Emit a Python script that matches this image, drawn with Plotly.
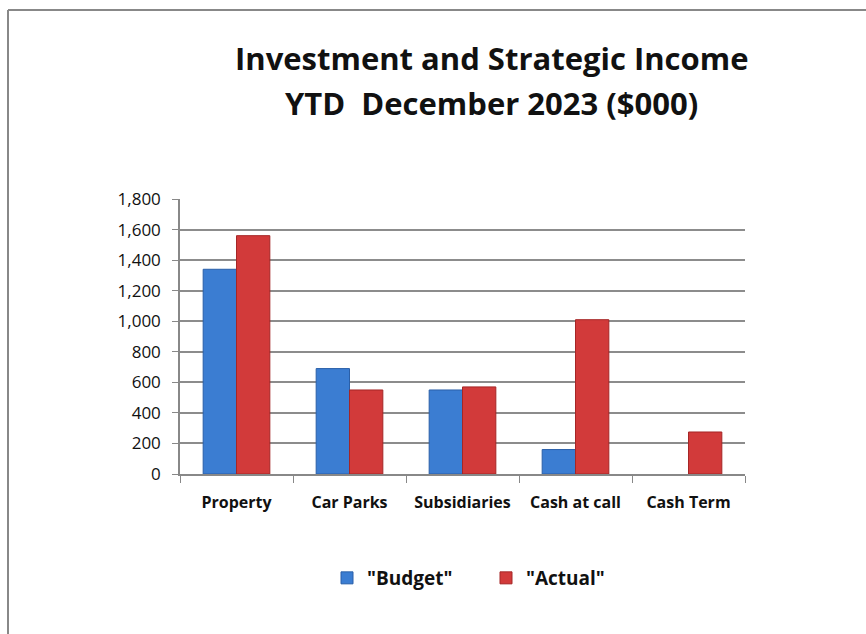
import plotly.graph_objects as go

categories = ["Property", "Car Parks", "Subsidiaries", "Cash at call", "Cash Term"]
budget = [1340, 690, 550, 160, None]
actual = [1560, 550, 570, 1010, 275]
y_ticks = [0, 200, 400, 600, 800, 1000, 1200, 1400, 1600, 1800]
y_tick_text = [f"{v:,}" for v in y_ticks]

W, H = 866, 634
L, R, T, B = 180, 121, 199, 160
pw, ph = W - L - R, H - T - B


def px_x(x):
    return (x - L) / pw


def px_y(y):
    return (H - B - y) / ph


fig = go.Figure()
fig.add_bar(name='"Budget"', x=categories, y=budget,
            marker=dict(color="#3b7dd2", line=dict(color="#2a5fa8", width=1)))
fig.add_bar(name='"Actual"', x=categories, y=actual,
            marker=dict(color="#d23a3a", line=dict(color="#a52626", width=1)))

font_family = "Open Sans, Lato, DejaVu Sans, sans-serif"

fig.update_layout(
    width=W, height=H,
    margin=dict(l=L, r=R, t=T, b=B),
    paper_bgcolor="white", plot_bgcolor="white",
    barmode="group", bargap=0.41, bargroupgap=0,
    font=dict(family=font_family, color="#111"),
    showlegend=True,
    legend=dict(orientation="h", x=px_x(486), xanchor="center",
                y=px_y(578), yanchor="middle",
                font=dict(size=19, family=font_family, weight="bold"),
                itemwidth=30, entrywidth=114, tracegroupgap=0),
    annotations=[
        dict(text="Investment and Strategic Income",
             x=px_x(491), y=px_y(58), xref="paper", yref="paper",
             xanchor="center", yanchor="middle", showarrow=False,
             font=dict(size=31, family=font_family, weight="bold", color="#111")),
        dict(text="YTD  December 2023 ($000)",
             x=px_x(491), y=px_y(103), xref="paper", yref="paper",
             xanchor="center", yanchor="middle", showarrow=False,
             font=dict(size=31, family=font_family, weight="bold", color="#111")),
    ],
    shapes=[
        dict(type="line", xref="paper", yref="paper",
             x0=px_x(8), x1=px_x(866), y0=px_y(10), y1=px_y(10),
             line=dict(color="#888", width=2)),
        dict(type="line", xref="paper", yref="paper",
             x0=px_x(8), x1=px_x(8), y0=px_y(10), y1=px_y(634),
             line=dict(color="#888", width=2)),
    ],
)

fig.update_xaxes(
    showline=True, linecolor="#888", linewidth=1.5,
    ticks="outside", tickson="boundaries", ticklen=7, tickcolor="#888",
    ticklabelstandoff=13,
    tickfont=dict(size=16, family=font_family, weight="bold", color="#111"),
    showgrid=False,
)
fig.update_yaxes(
    range=[0, 1800], tickvals=y_ticks, ticktext=y_tick_text,
    showline=True, linecolor="#888", linewidth=1.5,
    ticks="outside", ticklen=6, tickcolor="#888",
    ticklabelstandoff=8,
    showgrid=True, gridcolor="#8c8c8c", gridwidth=1.5,
    tickfont=dict(size=17, family=font_family, color="#111"),
    zeroline=False,
)

fig.write_html("out.html")
